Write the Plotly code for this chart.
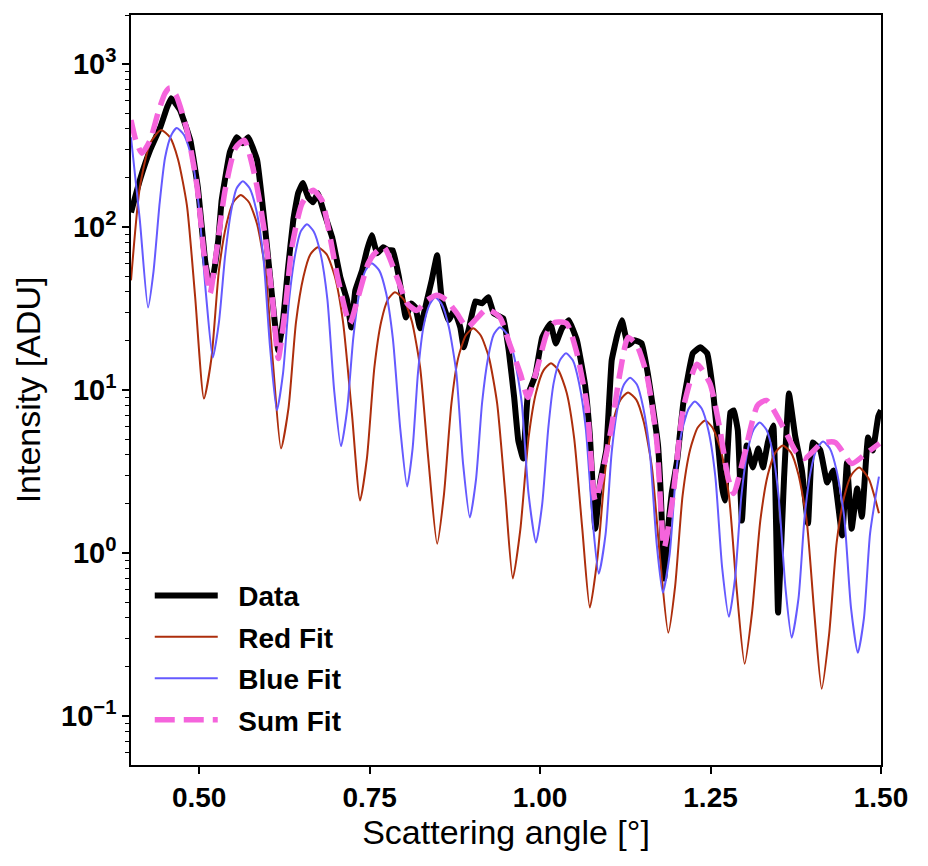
import plotly.graph_objects as go

# ---------------- data ----------------
data_x = [0.400,0.413,0.428,0.443,0.453,0.459,0.465,0.472,0.487,0.498,
          0.509,0.513,0.520,0.528,0.533,0.545,0.555,0.564,0.572,0.585,
          0.597,0.607,0.616,0.623,0.630,0.638,0.645,0.652,0.660,0.667,
          0.674,0.682,0.695,0.707,0.717,0.723,0.729,0.739,0.746,0.753,
          0.761,0.770,0.777,0.784,0.793,0.803,0.811,0.817,0.824,0.834,
          0.841,0.849,0.856,0.866,0.874,0.883,0.888,0.896,0.905,0.915,
          0.924,0.932,0.946,0.954,0.962,0.968,0.975,0.982,0.993,1.003,
          1.015,1.023,1.032,1.042,1.054,1.066,1.073,1.081,1.088,1.097,
          1.105,1.113,1.120,1.129,1.139,1.149,1.158,1.164,1.173,1.177,
          1.182,1.188,1.193,1.201,1.210,1.224,1.235,1.245,1.254,1.261,
          1.267,1.271,1.279,1.284,1.290,1.296,1.303,1.312,1.320,1.327,
          1.334,1.342,1.349,1.358,1.365,1.374,1.384,1.393,1.400,1.411,
          1.421,1.430,1.443,1.450,1.457,1.465,1.472,1.481,1.488,1.496,
          1.500]
data_y = [123,194,296,410,544,618,576,522,341,176,
          60.8,50.6,49.2,83.0,146,288,356,327,356,257,
          95.5,37.1,17.5,26.8,54.3,110,161,186,152,142,
          161,127,86.5,49.2,35.5,24.2,40.9,54.3,72.0,89.1,
          69.0,75.2,72.0,72.0,49.2,27.9,34.0,32.2,23.9,35.5,
          47.1,67.1,35.5,26.8,30.8,24.2,18.3,24.2,35.0,34.0,
          37.1,29.5,27.5,17.5,9.0,4.90,3.80,9.27,12.3,21.0,
          25.6,19.3,23.9,26.8,20.2,10.7,5.26,1.41,2.71,4.26,
          15.2,21.6,26.8,18.8,20.2,19.3,12.6,8.63,4.57,2.32,
          0.697,1.47,2.32,3.70,8.28,16.8,18.3,16.8,9.53,4.70,
          2.52,2.10,7.28,7.50,5.65,1.58,4.57,3.35,4.38,3.35,
          4.77,6.06,0.431,2.99,9.53,5.26,3.21,1.52,4.77,4.26,
          2.71,3.21,1.28,3.59,1.41,2.49,1.67,5.11,4.26,6.89,
          7.50]

red_x = [0.400,0.413,0.428,0.444,0.457,0.469,0.482,0.494,0.507,0.518,
         0.529,0.540,0.550,0.561,0.573,0.585,0.597,0.608,0.620,0.631,
         0.642,0.653,0.663,0.674,0.687,0.699,0.711,0.724,0.736,0.746,
         0.757,0.767,0.777,0.787,0.800,0.812,0.824,0.836,0.849,0.859,
         0.870,0.880,0.891,0.902,0.913,0.925,0.937,0.949,0.960,0.971,
         0.983,0.994,1.005,1.016,1.027,1.039,1.050,1.062,1.073,1.084,
         1.096,1.107,1.118,1.129,1.141,1.152,1.164,1.176,1.188,1.198,
         1.209,1.220,1.231,1.242,1.253,1.265,1.277,1.288,1.300,1.311,
         1.323,1.334,1.345,1.356,1.368,1.379,1.391,1.402,1.413,1.424,
         1.435,1.446,1.457,1.468,1.482,1.497]
red_y = [47.1,176,327,394,356,260,136,37.6,8.87,15.7,
         54.3,104,142,157,142,104,54.3,15.0,4.38,7.73,
         26.1,49.7,67.9,75.2,67.9,49.7,26.1,7.18,2.10,3.80,
         13.8,26.3,36.0,39.8,36.0,26.3,13.8,3.80,1.14,2.28,
         8.28,15.8,21.6,23.9,21.6,15.8,8.28,2.28,0.697,1.39,
         5.05,9.62,13.2,14.6,13.2,9.62,5.05,1.39,0.462,0.923,
         3.35,6.38,8.73,9.66,8.73,6.38,3.35,0.923,0.324,0.621,
         2.25,4.30,5.87,6.50,5.87,4.30,2.25,0.621,0.209,0.437,
         1.58,3.02,4.13,4.57,4.13,3.02,1.58,0.437,0.147,0.320,
         1.16,2.21,3.03,3.35,2.85,1.75]

blue_x = [0.400,0.413,0.425,0.433,0.442,0.450,0.459,0.467,0.478,0.489,
          0.499,0.510,0.520,0.529,0.538,0.547,0.555,0.564,0.574,0.584,
          0.594,0.604,0.614,0.623,0.632,0.641,0.649,0.658,0.668,0.678,
          0.688,0.698,0.708,0.717,0.726,0.735,0.744,0.753,0.764,0.774,
          0.784,0.795,0.805,0.813,0.821,0.829,0.838,0.846,0.856,0.866,
          0.877,0.887,0.897,0.906,0.915,0.924,0.932,0.941,0.952,0.962,
          0.973,0.983,0.994,1.003,1.012,1.020,1.029,1.038,1.048,1.057,
          1.067,1.077,1.086,1.096,1.105,1.114,1.123,1.132,1.142,1.151,
          1.161,1.171,1.180,1.190,1.199,1.208,1.218,1.227,1.237,1.247,
          1.257,1.267,1.277,1.286,1.295,1.304,1.313,1.322,1.332,1.341,
          1.350,1.360,1.369,1.379,1.388,1.397,1.406,1.415,1.425,1.435,
          1.446,1.456,1.466,1.475,1.484,1.497]
blue_y = [355,110,32.1,53.3,140,267,366,405,366,267,
          140,38.6,15.8,26.1,66.2,126,173,191,173,126,
          66.2,18.2,7.50,12.7,36.1,68.7,94.0,104,94.0,68.7,
          36.1,9.93,4.51,7.57,20.8,39.6,54.2,60.0,54.2,39.6,
          20.8,5.73,2.56,4.37,12.9,24.5,33.5,37.1,33.5,24.5,
          12.9,3.54,1.65,2.82,8.41,16.0,21.9,24.3,21.9,16.0,
          8.41,2.32,1.16,1.98,5.82,11.1,15.2,16.8,15.2,11.1,
          5.82,1.60,0.746,1.30,4.14,7.89,10.8,11.9,10.8,7.89,
          4.14,1.14,0.571,0.982,2.95,5.62,7.69,8.51,7.69,5.62,
          2.95,0.813,0.406,0.703,2.19,4.18,5.71,6.32,5.71,4.18,
          2.19,0.604,0.302,0.526,1.67,3.19,4.37,4.83,4.37,3.19,
          1.67,0.461,0.244,0.398,1.32,2.94]

sum_x = [0.400,0.407,0.416,0.428,0.440,0.450,0.457,0.466,0.482,0.497,
         0.507,0.516,0.525,0.538,0.553,0.566,0.582,0.597,0.608,0.616,
         0.626,0.636,0.651,0.667,0.680,0.692,0.704,0.721,0.733,0.748,
         0.759,0.771,0.790,0.805,0.819,0.834,0.849,0.863,0.878,0.893,
         0.907,0.922,0.941,0.955,0.971,0.982,0.995,1.010,1.022,1.039,
         1.054,1.069,1.081,1.103,1.117,1.129,1.142,1.157,1.171,1.182,
         1.195,1.210,1.230,1.249,1.264,1.276,1.284,1.300,1.319,1.332,
         1.359,1.376,1.388,1.413,1.433,1.457,1.478,1.498]
sum_y = [453,341,284,341,507,663,713,645,394,176,
         69.0,39.2,69.0,168,305,341,202,86.5,34.0,15.6,
         30.8,75.2,140,168,146,86.5,47.1,25.6,37.1,59.9,
         70.0,75.2,49.2,34.0,30.8,35.5,38.1,35.5,29.5,24.2,
         27.5,31.3,27.9,19.3,12.6,9.0,13.2,22.3,26.0,25.6,
         16.8,7.82,2.10,5.41,12.6,21.0,18.8,12.1,4.90,1.08,
         2.25,7.71,14.4,11.0,5.65,2.86,2.32,4.08,8.04,8.63,
         5.65,4.14,3.80,4.70,4.77,3.54,4.08,4.70]

series_names = ["Data", "Red Fit", "Blue Fit", "Sum Fit"]

x_tick_vals = [0.50, 0.75, 1.00, 1.25, 1.50]
x_tick_text = ["0.50", "0.75", "1.00", "1.25", "1.50"]
y_tick_vals = [0.1, 1, 10, 100, 1000]
y_tick_text = ["10<sup>\u22121</sup>", "10<sup>0</sup>", "10<sup>1</sup>",
               "10<sup>2</sup>", "10<sup>3</sup>"]
y_minor_vals = [0.06, 0.07, 0.08, 0.09,
                0.2, 0.3, 0.4, 0.5, 0.6, 0.7, 0.8, 0.9,
                2, 3, 4, 5, 6, 7, 8, 9,
                20, 30, 40, 50, 60, 70, 80, 90,
                200, 300, 400, 500, 600, 700, 800, 900,
                2000]
x_range = [0.4, 1.5]
y_range_log = [-1.30103, 3.30103]

FONT = "Liberation Sans, Arial, Helvetica, sans-serif"
PAD = "\u00a0\u00a0"

fig = go.Figure()
fig.add_trace(go.Scatter(x=data_x, y=data_y, mode="lines", name=PAD + series_names[0],
                         legendgroup="a",
                         line=dict(color="black", width=6, shape="spline", smoothing=0.3)))
fig.add_trace(go.Scatter(x=red_x, y=red_y, mode="lines", name=PAD + series_names[1],
                         legendgroup="b",
                         line=dict(color="#AD2E0C", width=2, shape="spline", smoothing=0.6)))
fig.add_trace(go.Scatter(x=blue_x, y=blue_y, mode="lines", name=PAD + series_names[2],
                         legendgroup="c",
                         line=dict(color="#655AFF", width=2, shape="spline", smoothing=0.6)))
fig.add_trace(go.Scatter(x=sum_x, y=sum_y, mode="lines", name=PAD + series_names[3],
                         legendgroup="d",
                         line=dict(color="#F564DC", width=5.5, dash="20px,9px",
                                   shape="spline", smoothing=0.6)))

fig.update_layout(
    width=928, height=866,
    margin=dict(l=131, r=47, t=15, b=101),
    plot_bgcolor="white", paper_bgcolor="white",
    font=dict(family=FONT, color="black"),
    legend=dict(x=0.025, y=0.027, xanchor="left", yanchor="bottom",
                bgcolor="rgba(0,0,0,0)", borderwidth=0,
                font=dict(family=FONT, size=28, weight="bold", color="black"),
                itemwidth=63, tracegroupgap=2),
)
fig.update_xaxes(
    range=x_range, showgrid=False, zeroline=False,
    showline=True, linecolor="black", linewidth=1.5, mirror=True,
    ticks="outside", ticklen=7, tickwidth=1.5, tickcolor="black",
    tickmode="array", tickvals=x_tick_vals, ticktext=x_tick_text,
    tickfont=dict(family=FONT, size=28, weight="bold"),
    title=dict(text="Scattering angle [\u00b0]", font=dict(family=FONT, size=34), standoff=6),
)
fig.update_yaxes(
    type="log", range=y_range_log, showgrid=False, zeroline=False,
    showline=True, linecolor="black", linewidth=1.5, mirror=True,
    ticks="outside", ticklen=7, tickwidth=1.5, tickcolor="black",
    tickmode="array", tickvals=y_tick_vals, ticktext=y_tick_text,
    tickfont=dict(family=FONT, size=29, weight="bold"),
    minor=dict(tickmode="array", tickvals=y_minor_vals, ticks="outside",
               ticklen=4, tickwidth=1, tickcolor="black", showgrid=False),
    title=dict(text="Intensity [ADU]", font=dict(family=FONT, size=34), standoff=10),
)

fig.write_html("out.html")
